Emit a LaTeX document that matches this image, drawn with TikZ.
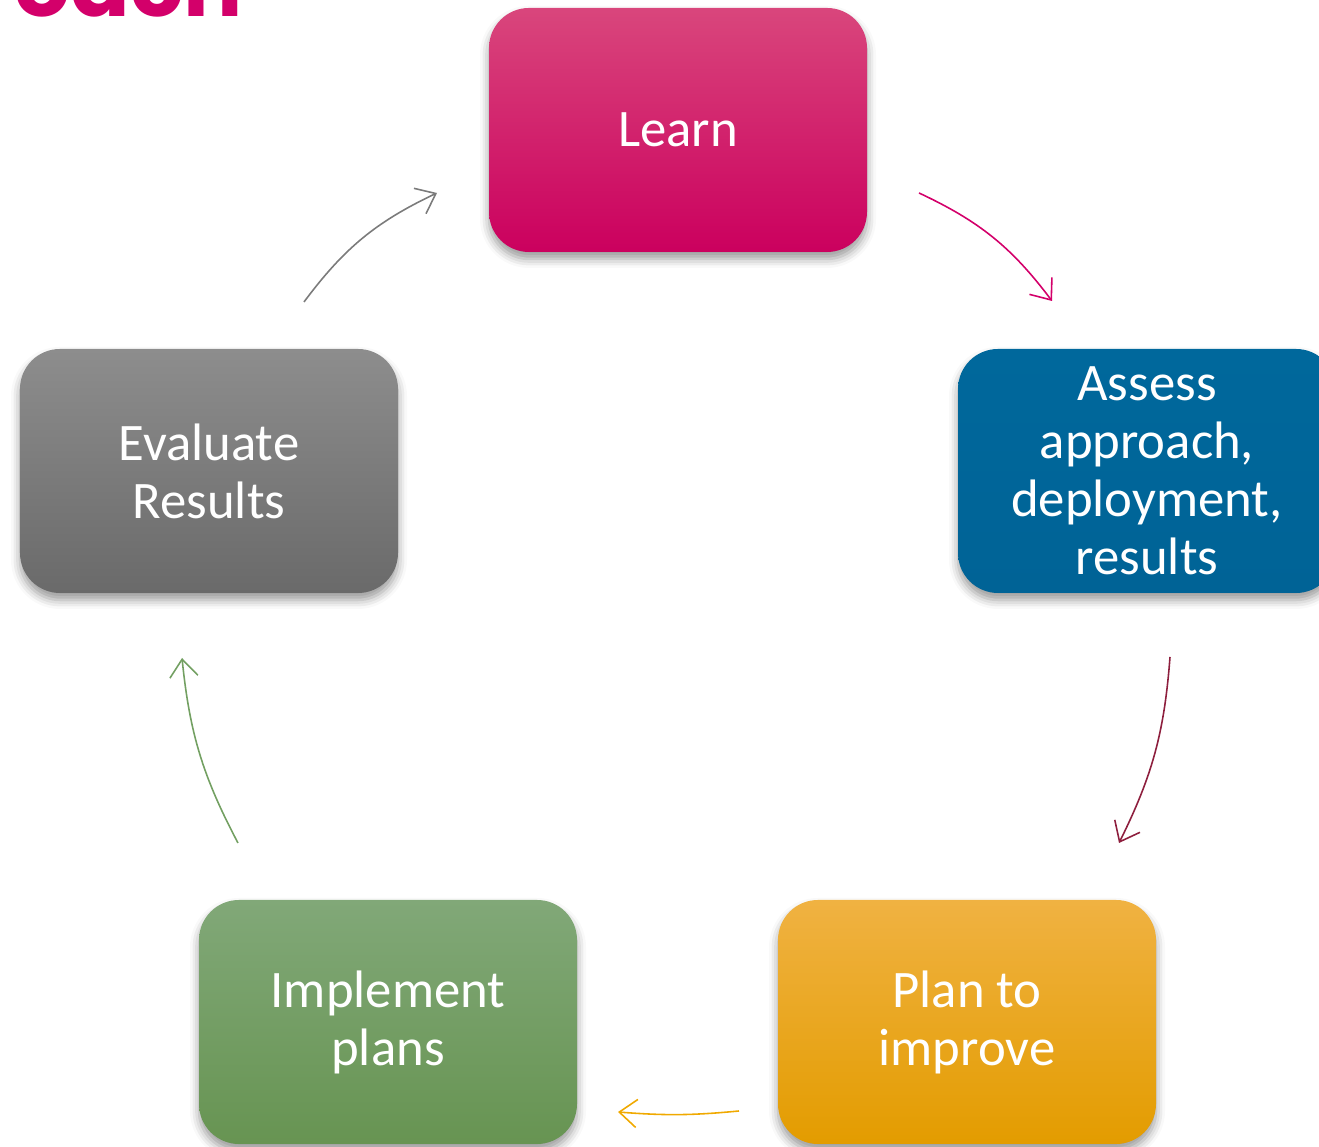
\documentclass[tikz,border=0pt]{standalone}
\usepackage{fontspec}
\setmainfont{Carlito}
\newfontfamily\titlefont{Poppins}
\usepackage{tikz}
\usetikzlibrary{arrows.meta,shadows.blur}

\definecolor{learnpink}{HTML}{D3006A}
\definecolor{assessblue}{HTML}{006699}
\definecolor{planorange}{HTML}{F0A900}
\definecolor{implgreen}{HTML}{73A062}
\definecolor{evalgray}{HTML}{7B7B7B}
\definecolor{cyclered}{HTML}{8E1F3E}

\tikzset{
    stage/.style={rounded corners=0.4cm, minimum width=3.78cm, minimum height=2.44cm,
        text=white, align=center, inner sep=0pt,
        font=\fontsize{15}{16.5}\selectfont,
        blur shadow={shadow xshift=0pt, shadow yshift=-0.07cm,
            shadow blur radius=0.09cm, shadow opacity=40}},
    cycle/.style={line width=0.45pt, -{Straight Barb[length=5pt, width=8pt]}},
}

\begin{document}
\begin{tikzpicture}
    \useasboundingbox (0,0) rectangle (13.19,11.47);

    % title cut off at the top edge
    \node[anchor=base west, inner sep=0pt, text=learnpink,
          font=\titlefont\bfseries\fontsize{25}{27}\selectfont] (title) at (0.14,11.30) {oach};

    % the five stages
    \node[stage, top color={rgb,255:red,217;green,70;blue,124}, middle color=learnpink,
          bottom color={rgb,255:red,203;green,0;blue,94}] (learn) at (6.78,10.17) {Learn};
    \node[stage, top color={rgb,255:red,0;green,104;blue,156}, bottom color={rgb,255:red,0;green,99;blue,150}]
          (assess) at (11.47,6.76) {Assess\\approach,\\deployment,\\results};
    \node[stage, top color={rgb,255:red,240;green,178;blue,66}, middle color=planorange,
          bottom color={rgb,255:red,227;green,156;blue,0}] (plan) at (9.67,1.25) {Plan to\\improve};
    \node[stage, top color={rgb,255:red,129;green,168;blue,120}, middle color=implgreen,
          bottom color={rgb,255:red,103;green,148;blue,82}] (impl) at (3.88,1.25) {Implement\\plans};
    \node[stage, top color={rgb,255:red,141;green,141;blue,141}, middle color=evalgray,
          bottom color={rgb,255:red,106;green,106;blue,106}] (eval) at (2.09,6.76) {Evaluate\\Results};

    % arrow ends round the cycle
    \coordinate (learn-out)  at (9.19,9.54);
    \coordinate (assess-in)  at (10.52,8.46);
    \coordinate (assess-out) at (11.70,4.90);
    \coordinate (plan-in)    at (11.19,3.04);
    \coordinate (plan-out)   at (7.39,0.36);
    \coordinate (impl-in)    at (6.18,0.35);
    \coordinate (impl-out)   at (2.38,3.04);
    \coordinate (eval-in)    at (1.82,4.89);
    \coordinate (eval-out)   at (3.04,8.45);
    \coordinate (learn-in)   at (4.37,9.54);

    \draw[cycle, learnpink]  (learn-out)  to[bend left=14] (assess-in);
    \draw[cycle, cyclered]   (assess-out) to[bend left=11] (plan-in);
    \draw[cycle, planorange] (plan-out)   to[bend left=5]  (impl-in);
    \draw[cycle, implgreen]  (impl-out)   to[bend left=11] (eval-in);
    \draw[cycle, evalgray]   (eval-out)   to[bend left=14] (learn-in);
\end{tikzpicture}
\end{document}
